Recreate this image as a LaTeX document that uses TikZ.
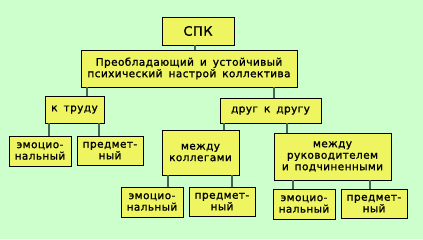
\documentclass[tikz,border=0pt]{standalone}
\usepackage{fontspec}
\setmainfont{DejaVu Sans}[FakeBold=1.2, LetterSpace=4, WordSpace=1.6]
\definecolor{bg}{HTML}{CCFFCC}
\definecolor{boxfill}{HTML}{EEF560}
\definecolor{wire}{HTML}{446655}
\tikzset{
  box/.style={draw=black, line width=0.9pt, fill=boxfill, inner sep=0pt, align=center,
    font=\fontsize{10.5}{11.5}\selectfont},
  wire/.style={draw=wire, line width=1.4pt}
}
\begin{document}
\begin{tikzpicture}[x=1pt,y=-1pt]
\fill[bg] (0,0) rectangle (423,239);
\useasboundingbox (0,0) rectangle (423,239);
\node[box, minimum width=72pt, minimum height=28pt, font=\fontsize{13}{14}\selectfont] (spk) at (198,31) {СПК};
\node[box, minimum width=216pt, minimum height=37pt] (main) at (189,68.5) {Преобладающий и устойчивый\\психический настрой коллектива};
\node[box, minimum width=59pt, minimum height=27pt] (trud) at (74.5,109.5) {к труду};
\node[box, minimum width=101pt, minimum height=25pt] (drug) at (270.5,110.5) {друг к другу};
\node[box, minimum width=62pt, minimum height=30pt] (e1) at (40,151) {эмоцио-\\нальный};
\node[box, minimum width=66pt, minimum height=29pt] (p1) at (110,150.5) {предмет-\\ный};
\node[box, minimum width=77pt, minimum height=45pt] (kol) at (200.5,152.5) {между\\коллегами};
\node[box, minimum width=117pt, minimum height=47pt] (ruk) at (332.5,156.5) {между\\руководителем\\и подчиненными};
\node[box, minimum width=62pt, minimum height=30pt] (e2) at (152,202) {эмоцио-\\нальный};
\node[box, minimum width=66pt, minimum height=29pt] (p2) at (222,201.5) {предмет-\\ный};
\node[box, minimum width=62pt, minimum height=30pt] (e3) at (304,204) {эмоцио-\\нальный};
\node[box, minimum width=66pt, minimum height=29pt] (p3) at (374,203.5) {предмет-\\ный};
\draw[wire] (195,0 |- spk.south) -- (195,0 |- main.north);
\draw[wire] (87,0 |- main.south) -- (87,0 |- trud.north);
\draw[wire] (274,0 |- main.south) -- (274,0 |- drug.north);
\draw[wire] (49,0 |- trud.south) -- (49,0 |- e1.north);
\draw[wire] (99,0 |- trud.south) -- (99,0 |- p1.north);
\draw[wire] (224,0 |- drug.south) -- (224,0 |- kol.north);
\draw[wire] (287,0 |- drug.south) -- (287,0 |- ruk.north);
\draw[wire] (168,0 |- kol.south) -- (168,0 |- e2.north);
\draw[wire] (232,0 |- kol.south) -- (232,0 |- p2.north);
\draw[wire] (293,0 |- ruk.south) -- (293,0 |- e3.north);
\draw[wire] (370,0 |- ruk.south) -- (370,0 |- p3.north);
\end{tikzpicture}
\end{document}
